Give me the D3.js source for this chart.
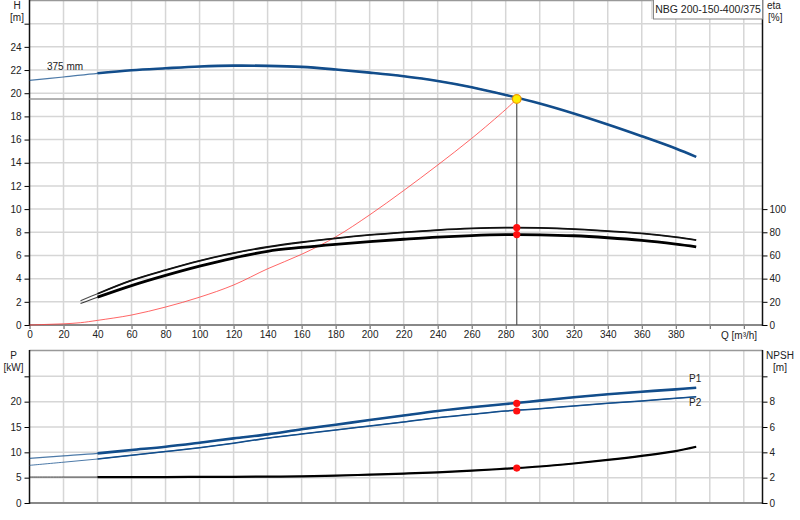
<!DOCTYPE html>
<html><head><meta charset="utf-8">
<script src="https://cdn.jsdelivr.net/npm/d3@7"></script>
<style>
html,body{margin:0;padding:0;background:#fff;}
svg text{font-family:"Liberation Sans",Arial,sans-serif;font-size:10px;fill:#222;}
</style></head>
<body><svg id="c" width="800" height="520"></svg>
<script>
// ---- data ----
const qTickValues = [0,20,40,60,80,100,120,140,160,180,200,220,240,260,280,300,320,340,360,380,400,420];
const qTickLabels = ["0","20","40","60","80","100","120","140","160","180","200","220","240","260","280","300","320","340","360","380","",""];
const hTickValues = [0,2,4,6,8,10,12,14,16,18,20,22,24,26];
const hTickLabels = ["0","2","4","6","8","10","12","14","16","18","20","22","24",""];
const etaTickValues = [0,20,40,60,80,100];
const pTickValues = [0,5,10,15,20,25];
const pTickLabels = ["0","5","10","15","20",""];
const npshTickValues = [0,2,4,6,8,10];
const npshTickLabels = ["0","2","4","6","8",""];

const headQ = [0,20,40,60,80,100,120,140,160,180,200,220,240,260,280,300,320,340,360,380,392];
const headH = [21.1,21.4,21.72,21.98,22.15,22.3,22.38,22.36,22.27,22.05,21.78,21.47,21.06,20.52,19.85,19.11,18.25,17.3,16.29,15.23,14.51];

const systemQ = [0,10,20,30,40,60,80,100,120,140,160,180,200,220,240,260,280,286.5];
const systemH = [0,0.05,0.1,0.2,0.4,0.86,1.55,2.4,3.45,4.85,6.1,7.6,9.5,11.6,13.8,16.1,18.6,19.5];

const etaQ = [30,40,60,80,100,120,140,160,180,200,220,240,260,280,300,320,340,360,380,392];
const etaUpper = [21.0,27.0,38.5,47.4,55.4,62.0,67.3,71.4,74.8,77.7,80.0,81.9,83.3,84.0,83.8,82.8,81.0,79.0,75.9,73.3];
const etaLower = [18.5,24.0,34.0,42.8,50.8,57.8,63.6,66.9,69.6,71.9,74.0,75.9,77.2,77.9,77.8,77.0,75.3,73.0,69.8,67.5];

const powerQ = [0,20,40,60,80,100,120,140,160,180,200,220,240,260,280,300,320,340,360,380,392];
const powerP1 = [8.82,9.3,9.8,10.46,11.1,11.9,12.76,13.55,14.54,15.45,16.38,17.28,18.16,18.9,19.54,20.2,20.86,21.45,21.97,22.43,22.76];
const powerP2 = [7.43,8.05,8.68,9.41,10.15,10.92,11.8,12.8,13.62,14.4,15.2,16.0,16.84,17.5,18.16,18.6,19.14,19.67,20.13,20.66,20.98];
const npshValues = [2.05,2.05,2.05,2.05,2.05,2.06,2.07,2.08,2.1,2.16,2.24,2.32,2.42,2.55,2.71,2.88,3.12,3.4,3.72,4.1,4.44];

const dutyQ = 286.5, dutyH = 19.5, dutyEta1 = 84, dutyEta2 = 78, dutyP1 = 19.67, dutyP2 = 18.16, dutyNPSH = 2.76;
const modelName = "NBG 200-150-400/375";
const impellerLabel = "375 mm";

// ---- scales ----
const svg = d3.select("#c");
const X0 = 29.5, X1 = 762.5;
const x = d3.scaleLinear().domain([0,431]).range([X0,X1]);
const yH = d3.scaleLinear().domain([0,28]).range([325,0.5]);
const yEta = d3.scaleLinear().domain([0,280]).range([325,0.5]);
const yP = d3.scaleLinear().domain([0,30]).range([503,351]);
const yN = d3.scaleLinear().domain([0,12]).range([503,351]);

const gridC = "#d6d6d6";
const g = svg.append("g");
qTickValues.filter(v=>v>0).forEach(v=>{
  g.append("line").attr("x1",x(v)).attr("x2",x(v)).attr("y1",0).attr("y2",325).attr("stroke",gridC).attr("stroke-width",1.5);
  g.append("line").attr("x1",x(v)).attr("x2",x(v)).attr("y1",351).attr("y2",503).attr("stroke",gridC).attr("stroke-width",1.5);
});
hTickValues.filter(v=>v>0).forEach(v=>{
  g.append("line").attr("x1",X0).attr("x2",X1).attr("y1",yH(v)).attr("y2",yH(v)).attr("stroke",gridC).attr("stroke-width",1.5);
});
pTickValues.filter(v=>v>0).forEach(v=>{
  g.append("line").attr("x1",X0).attr("x2",X1).attr("y1",yP(v)).attr("y2",yP(v)).attr("stroke",gridC).attr("stroke-width",1.5);
});
g.append("line").attr("x1",X0).attr("x2",X1).attr("y1",0.5).attr("y2",0.5).attr("stroke","#999").attr("stroke-width",1.5);
g.append("line").attr("x1",X0).attr("x2",X1).attr("y1",350.5).attr("y2",350.5).attr("stroke","#999").attr("stroke-width",1.5);

// ---- axes ----
function styleAxis(sel, color){
  sel.select(".domain").remove();
  sel.selectAll(".tick line").attr("stroke",color||"#000");
  sel.selectAll(".tick text").attr("fill","#222").style("font-size","10px").style("font-family","Liberation Sans, Arial, sans-serif");
}
const axH = svg.append("g").attr("transform",`translate(${X0},0)`)
  .call(d3.axisLeft(yH).tickValues(hTickValues).tickSize(5).tickPadding(3).tickFormat((d,i)=>hTickLabels[i]));
styleAxis(axH);
const axEta = svg.append("g").attr("transform",`translate(${X1},0)`)
  .call(d3.axisRight(yEta).tickValues(etaTickValues).tickSize(5).tickPadding(2));
styleAxis(axEta);
const axQ = svg.append("g").attr("transform",`translate(0,325)`)
  .call(d3.axisBottom(x).tickValues(qTickValues).tickSize(4).tickPadding(2).tickFormat((d,i)=>qTickLabels[i]));
styleAxis(axQ,"#555");
const axQ2 = svg.append("g").attr("transform",`translate(0,503)`)
  .call(d3.axisBottom(x).tickValues(qTickValues).tickSize(0).tickFormat(""));
styleAxis(axQ2);
const axP = svg.append("g").attr("transform",`translate(${X0},0)`)
  .call(d3.axisLeft(yP).tickValues(pTickValues).tickSize(5).tickPadding(3).tickFormat((d,i)=>pTickLabels[i]));
styleAxis(axP);
const axN = svg.append("g").attr("transform",`translate(${X1},0)`)
  .call(d3.axisRight(yN).tickValues(npshTickValues).tickSize(5).tickPadding(2).tickFormat((d,i)=>npshTickLabels[i]));
styleAxis(axN);

svg.append("line").attr("x1",X0).attr("x2",X1).attr("y1",325).attr("y2",325).attr("stroke","#888").attr("stroke-width",2);
svg.append("line").attr("x1",X0).attr("x2",X1).attr("y1",503).attr("y2",503).attr("stroke","#888").attr("stroke-width",2);
[X0,X1].forEach(xx=>{
  svg.append("line").attr("x1",xx).attr("x2",xx).attr("y1",0).attr("y2",326).attr("stroke","#111").attr("stroke-width",1.5);
  svg.append("line").attr("x1",xx).attr("x2",xx).attr("y1",350).attr("y2",504).attr("stroke","#111").attr("stroke-width",1.5);
});

// ---- axis titles ----
function txt(t,xx,yy,anchor,color){
  return svg.append("text").attr("x",xx).attr("y",yy).attr("text-anchor",anchor||"start").attr("fill",color||"#222").text(t);
}
txt("H",17,9,"middle");
txt("[m]",17,21,"middle");
txt("eta",767,9,"start");
txt("[%]",768,21,"start");
txt("P",13.5,359,"middle");
txt("[kW]",13.5,371,"middle");
txt("NPSH",780,359,"middle");
txt("[m]",780,371,"middle");
txt("Q [m³/h]",721,339,"start");

// ---- curves ----
const blue = "#124d8b";
const smooth = d3.curveCatmullRom.alpha(0.5);
function drawCurve(qs, vs, yScale, color, thinW, thickW, qMin){
  const pts = qs.map((q,i)=>[q,vs[i]]);
  const ln = d3.line().x(d=>x(d[0])).y(d=>yScale(d[1])).curve(smooth);
  svg.append("path").attr("d",ln(pts)).attr("fill","none").attr("stroke",color).attr("stroke-width",thinW).attr("stroke-opacity",0.75);
  const thick = pts.filter(d=>d[0]>=qMin);
  svg.append("path").attr("d",ln(thick)).attr("fill","none").attr("stroke",color).attr("stroke-width",thickW).attr("stroke-linecap","butt");
}

svg.append("line").attr("x1",X0).attr("x2",x(dutyQ)).attr("y1",yH(dutyH)).attr("y2",yH(dutyH)).attr("stroke","#9a9a9a").attr("stroke-width",1.5);
svg.append("line").attr("x1",x(dutyQ)).attr("x2",x(dutyQ)).attr("y1",yH(dutyH)).attr("y2",325).attr("stroke","#555").attr("stroke-width",1.2);

const sysLine = d3.line().x((d,i)=>x(systemQ[i])).y((d,i)=>yH(systemH[i])).curve(smooth);
svg.append("path").attr("d",sysLine(systemQ)).attr("fill","none").attr("stroke","#ff4040").attr("stroke-width",1).attr("stroke-opacity",0.8);

drawCurve(headQ, headH, yH, blue, 1.2, 2.6, 40);
drawCurve(etaQ, etaUpper, yEta, "#111", 1.1, 1.8, 40);
drawCurve(etaQ, etaLower, yEta, "#000", 1.1, 2.8, 40);
drawCurve(powerQ, powerP1, yP, blue, 1.2, 2.6, 40);
drawCurve(powerQ, powerP2, yP, blue, 1.0, 1.5, 40);
drawCurve(powerQ, npshValues, yN, "#000", 1.0, 2.2, 40);

[yEta(dutyEta1), yEta(dutyEta2), yP(dutyP1), yP(dutyP2), yN(dutyNPSH)].forEach(cy=>{
  svg.append("circle").attr("cx",x(dutyQ)).attr("cy",cy).attr("r",3.6).attr("fill","#ff1010");
});
svg.append("circle").attr("cx",x(dutyQ)).attr("cy",yH(dutyH)).attr("r",4.3).attr("fill","#ffee00").attr("stroke","#f29a00").attr("stroke-width",1.2);

txt(impellerLabel,47,70,"start");
txt("P1",689,382,"start",blue);
txt("P2",689,406,"start",blue);

svg.append("rect").attr("x",653.5).attr("y",-1).attr("width",109).attr("height",20).attr("fill","#fff").attr("stroke","#888").attr("stroke-width",1);
svg.append("line").attr("x1",652).attr("x2",652).attr("y1",0).attr("y2",19).attr("stroke","#bbb");
svg.append("text").attr("x",708).attr("y",12.5).attr("text-anchor","middle").style("font-size","10.5px").text(modelName);
</script></body></html>
